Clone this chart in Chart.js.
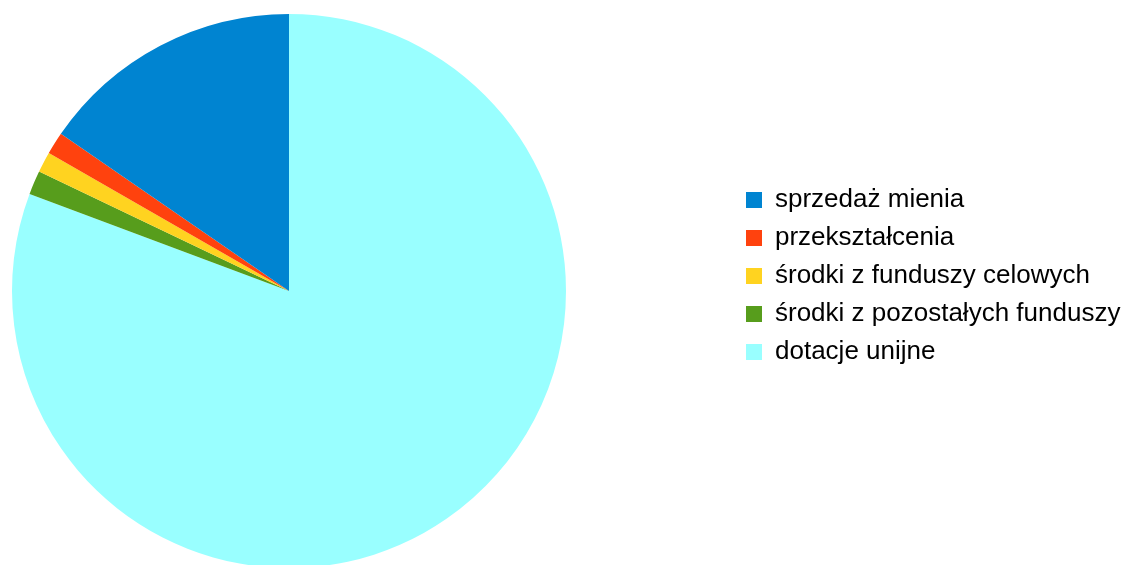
<!DOCTYPE html>
<html>
<head>
<meta charset="utf-8">
<script src="https://cdn.jsdelivr.net/npm/chart.js@4"></script>
<style>
  html, body { margin: 0; padding: 0; background: #ffffff; overflow: hidden; }
  #wrap { width: 1127px; height: 565px; position: relative; }
</style>
</head>
<body>
<div id="wrap"><canvas id="wykres" width="1127" height="565"></canvas></div>
<script>
// dane (udział w %)
const kategorie = ['sprzedaż mienia', 'przekształcenia', 'środki z funduszy celowych', 'środki z pozostałych funduszy', 'dotacje unijne'];
const udzialy = [15.4, 1.3, 1.2, 1.4, 80.7];
const kolory = ['#0084d1', '#ff420e', '#ffd320', '#579d1c', '#99ffff'];

// LibreOffice rysuje plasterki przeciwnie do wskazówek zegara, Chart.js zgodnie,
// więc odwracamy kolejność danych, a legendę odwracamy z powrotem
const etykiety = kategorie.slice().reverse();
const wartosci = udzialy.slice().reverse();
const tla = kolory.slice().reverse();

// ustawienie obszaru koła i legendy jak na oryginale
const uklad = {
    id: 'uklad',
    afterLayout(chart) {
        chart.chartArea = { left: 0, top: 14, right: 578, bottom: 568, width: 578, height: 554 };
        const lg = chart.legend;
        lg.left = 734; lg.right = 1127; lg.width = 1127 - 734;
        lg.top = 175; lg.bottom = 565; lg.height = 565 - 175;
    }
};

const ctx = document.getElementById('wykres').getContext('2d');
new Chart(ctx, {
    type: 'pie',
    data: {
        labels: etykiety,
        datasets: [{
            data: wartosci,
            backgroundColor: tla,
            borderWidth: 0
        }]
    },
    options: {
        responsive: false,
        animation: false,
        rotation: 0,
        plugins: {
            legend: {
                position: 'right',
                align: 'start',
                reverse: true,
                labels: {
                    boxWidth: 16,
                    boxHeight: 16,
                    padding: 12,
                    color: '#000000',
                    font: { family: 'Liberation Sans', size: 26 }
                }
            },
            tooltip: { enabled: false }
        }
    },
    plugins: [uklad]
});
</script>
</body>
</html>
